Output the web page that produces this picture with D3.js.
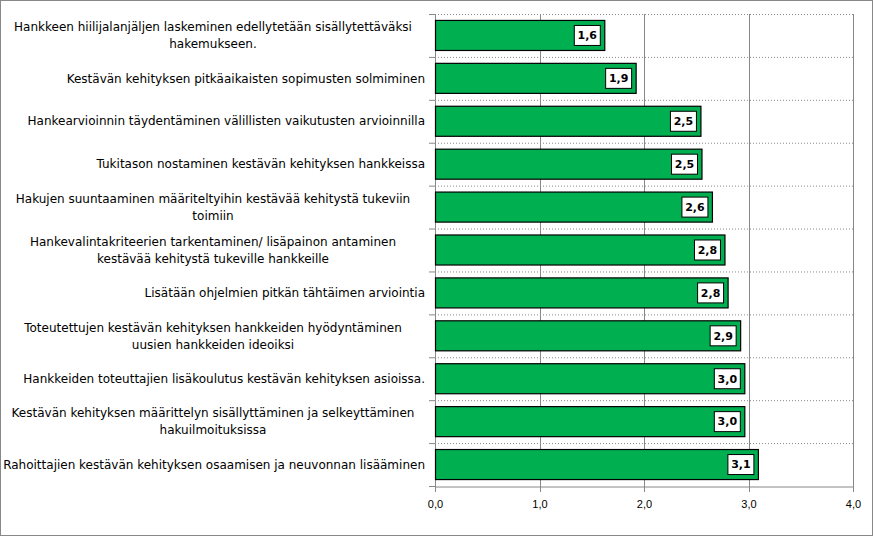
<!DOCTYPE html>
<html><head><meta charset="utf-8">
<script src="https://cdn.jsdelivr.net/npm/d3@7"></script>
<style>body{margin:0;background:#fff}</style>
</head><body><div id="chart"></div>
<script>
const categories = [
  ["Hankkeen hiilijalanjäljen laskeminen edellytetään sisällytettäväksi", "hakemukseen."],
  ["Kestävän kehityksen pitkäaikaisten sopimusten solmiminen"],
  ["Hankearvioinnin täydentäminen välillisten vaikutusten arvioinnilla"],
  ["Tukitason nostaminen kestävän kehityksen hankkeissa"],
  ["Hakujen suuntaaminen määriteltyihin kestävää kehitystä tukeviin", "toimiin"],
  ["Hankevalintakriteerien tarkentaminen/ lisäpainon antaminen", "kestävää kehitystä tukeville hankkeille"],
  ["Lisätään ohjelmien pitkän tähtäimen arviointia"],
  ["Toteutettujen kestävän kehityksen hankkeiden hyödyntäminen", "uusien hankkeiden ideoiksi"],
  ["Hankkeiden toteuttajien lisäkoulutus kestävän kehityksen asioissa."],
  ["Kestävän kehityksen määrittelyn sisällyttäminen ja selkeyttäminen", "hakuilmoituksissa"],
  ["Rahoittajien kestävän kehityksen osaamisen ja neuvonnan lisääminen"]
];
const values = [1.62, 1.92, 2.54, 2.55, 2.65, 2.77, 2.8, 2.92, 2.96, 2.96, 3.09];
const ticks = [0, 1, 2, 3, 4];

const W = 873, H = 536, L = 435, R = 853, T = 14, B = 486;
const svg = d3.select("#chart").append("svg").attr("width", W).attr("height", H)
  .style("font-family", "Tahoma, 'DejaVu Sans', sans-serif");
svg.append("rect").attr("x", 0.5).attr("y", 0.5).attr("width", W - 1).attr("height", H - 1)
  .attr("fill", "#fff").attr("stroke", "#888");

const x = d3.scaleLinear().domain([0, 4]).range([L, R]);
const y = d3.scaleBand().domain(d3.range(categories.length)).range([T, B]).paddingInner(0.3).paddingOuter(0.15);
const step = (B - T) / categories.length;

// dotted category separators
svg.selectAll("line.hg").data(d3.range(categories.length)).enter().append("line")
  .attr("x1", L).attr("x2", R).attr("y1", d => T + d * step + 0.5).attr("y2", d => T + d * step + 0.5)
  .attr("stroke", "#888").attr("stroke-dasharray", "1,2");
svg.append("line").attr("x1", R + 0.5).attr("x2", R + 0.5).attr("y1", T).attr("y2", B).attr("stroke", "#888");

const axis = svg.append("g").attr("transform", `translate(0,${B + 0.5})`)
  .call(d3.axisBottom(x).tickValues(ticks).tickSize(0).tickPadding(14).tickFormat(d => d3.format(".1f")(d).replace(".", ",")));
axis.select(".domain").attr("stroke", "#888");
axis.selectAll("text").attr("font-size", 11).attr("fill", "#000");
svg.selectAll("line.vg").data(ticks).enter().append("line")
  .attr("x1", d => Math.round(x(d)) + 0.5).attr("x2", d => Math.round(x(d)) + 0.5)
  .attr("y1", T).attr("y2", B + 6).attr("stroke", "#888");
svg.selectAll("line.yt").data(d3.range(categories.length + 1)).enter().append("line")
  .attr("x1", L - 6).attr("x2", L).attr("y1", d => T + d * step + 0.5).attr("y2", d => T + d * step + 0.5)
  .attr("stroke", "#888");

svg.selectAll("rect.bar").data(values).enter().append("rect")
  .attr("x", L + 0.5).attr("y", (d, i) => y(i)).attr("height", y.bandwidth())
  .attr("width", d => x(d) - L).attr("fill", "#00b050").attr("stroke", "#000").attr("stroke-width", 1.2);

const lab = svg.selectAll("g.lab").data(values).enter().append("g")
  .attr("transform", (d, i) => `translate(${x(d) - 14},${y(i) + y.bandwidth() / 2})`);
lab.append("rect").attr("x", -16).attr("y", -10).attr("width", 26).attr("height", 20)
  .attr("fill", "#fff").attr("stroke", "#000");
lab.append("text").attr("x", -3).attr("dy", "0.35em").attr("text-anchor", "middle")
  .attr("font-size", 11).attr("font-weight", "bold").text(d => d3.format(".1f")(d).replace(".", ","));

svg.selectAll("text.cat").data(categories).enter().append("text")
  .attr("text-anchor", "end").attr("font-size", 12).attr("fill", "#000")
  .attr("transform", (d, i) => `translate(425,${T + (i + 0.5) * step})`)
  .each(function (d) {
    const t = d3.select(this);
    d.forEach((line, j) => t.append("tspan").attr("x", d.length > 1 ? -212 : 0)
      .attr("text-anchor", d.length > 1 ? "middle" : "end")
      .attr("y", (j - (d.length - 1) / 2) * 17).attr("dy", "0.35em").text(line));
  });
</script></body></html>
